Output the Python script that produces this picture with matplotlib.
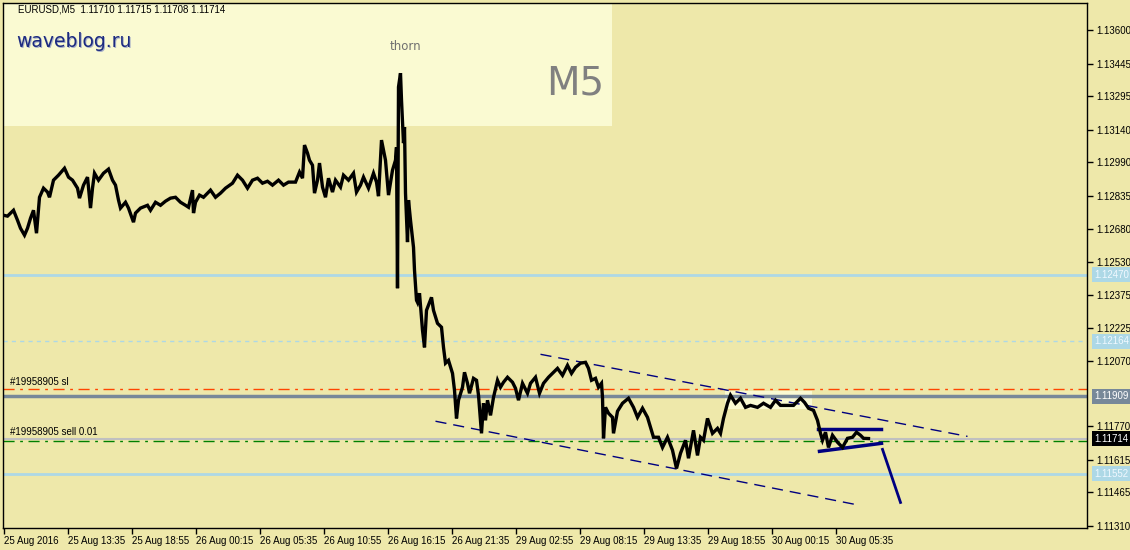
import matplotlib
matplotlib.use("Agg")
import matplotlib.pyplot as plt
import matplotlib.patches as patches
import matplotlib.transforms as mtransforms

plt.rcParams["font.family"] = ["Liberation Sans", "DejaVu Sans"]

# EURUSD M5 price path: bar number from the left edge and price
bars = [0, 4, 10, 14, 17, 21, 24, 27, 30, 33,
        36, 40, 44, 46, 50, 55, 61, 65, 69, 74,
        76, 80, 84, 87, 89, 91, 95, 100, 105, 109,
        112, 115, 117, 122, 125, 130, 132, 137, 144, 147,
        152, 157, 162, 167, 172, 177, 182, 185, 189, 190,
        192, 196, 200, 207, 212, 217, 222, 229, 234, 239,
        244, 249, 254, 259, 264, 269, 275, 280, 285, 292,
        296, 299, 301, 304, 306, 309, 311, 314, 316, 319,
        322, 325, 329, 332, 337, 340, 345, 350, 353, 357,
        360, 365, 370, 373, 375, 378, 382, 385, 389, 392,
        393, 394, 395, 397, 398, 400, 401, 402, 404, 405,
        407, 410, 411, 413, 414, 416, 419, 421, 423, 428,
        430, 434, 438, 440, 442, 445, 449, 451, 453, 455,
        459, 461, 464, 466, 470, 473, 475, 478, 480, 482,
        484, 487, 490, 494, 497, 500, 504, 509, 512, 515,
        519, 524, 527, 532, 536, 540, 545, 550, 554, 559,
        564, 568, 572, 577, 582, 585, 588, 592, 595, 598,
        599, 600, 602, 605, 609, 610, 614, 619, 625, 630,
        634, 639, 644, 647, 650, 655, 659, 664, 669, 673,
        677, 682, 685, 690, 694, 697, 700, 704, 709, 714,
        717, 720, 724, 727, 732, 737, 742, 747, 754, 760,
        767, 772, 777, 784, 790, 797, 801, 805, 810, 814,
        817, 819, 822, 825, 829, 834, 839, 844, 849, 853,
        857, 860, 865]
prices = [1.12745, 1.12741, 1.12768, 1.12722, 1.12685, 1.12653, 1.12685, 1.12731, 1.12768, 1.12662,
          1.12828, 1.12870, 1.12852, 1.12828, 1.12907, 1.12930, 1.12962, 1.12921, 1.12907, 1.12870,
          1.12824, 1.12884, 1.12921, 1.12778, 1.12870, 1.12939, 1.12907, 1.12939, 1.12958, 1.12907,
          1.12884, 1.12815, 1.12778, 1.12805, 1.12778, 1.12713, 1.12755, 1.12778, 1.12791, 1.12768,
          1.12805, 1.12791, 1.12810, 1.12824, 1.12828, 1.12805, 1.12791, 1.12782, 1.12861, 1.12755,
          1.12805, 1.12838, 1.12828, 1.12861, 1.12828, 1.12847, 1.12870, 1.12893, 1.12930, 1.12907,
          1.12870, 1.12907, 1.12916, 1.12893, 1.12902, 1.12884, 1.12907, 1.12884, 1.12898, 1.12898,
          1.12944, 1.12916, 1.13069, 1.13032, 1.12999, 1.12976, 1.12847, 1.12907, 1.12986, 1.12875,
          1.12828, 1.12916, 1.12852, 1.12907, 1.12875, 1.12930, 1.12907, 1.12939, 1.12852, 1.12884,
          1.12921, 1.12870, 1.12939, 1.12898, 1.12833, 1.13092, 1.12999, 1.12838, 1.12953, 1.12999,
          1.13059, 1.12408, 1.13337, 1.13401, 1.13277, 1.13078, 1.13152, 1.12847, 1.12621, 1.12815,
          1.12722, 1.12597, 1.12491, 1.12353, 1.12343, 1.12385, 1.12214, 1.12135, 1.12306, 1.12366,
          1.12306, 1.12246, 1.12228, 1.12135, 1.12062, 1.12075, 1.12015, 1.11937, 1.11807, 1.11891,
          1.11951, 1.12020, 1.11969, 1.11923, 1.11992, 1.11983, 1.11914, 1.11738, 1.11877, 1.11798,
          1.11891, 1.11821, 1.11904, 1.11983, 1.11951, 1.11974, 1.11997, 1.11974, 1.11946, 1.11891,
          1.11969, 1.11923, 1.11969, 1.11997, 1.11923, 1.11969, 1.11997, 1.12020, 1.12038, 1.12006,
          1.12052, 1.12015, 1.12043, 1.12062, 1.12066, 1.12038, 1.11983, 1.11992, 1.11951, 1.11969,
          1.11904, 1.11715, 1.11858, 1.11831, 1.11812, 1.11738, 1.11840, 1.11877, 1.11900, 1.11858,
          1.11812, 1.11854, 1.11812, 1.11766, 1.11720, 1.11720, 1.11673, 1.11720, 1.11660, 1.11576,
          1.11646, 1.11706, 1.11623, 1.11752, 1.11636, 1.11720, 1.11706, 1.11807, 1.11738, 1.11761,
          1.11738, 1.11807, 1.11877, 1.11914, 1.11877, 1.11900, 1.11858, 1.11867, 1.11858, 1.11877,
          1.11858, 1.11891, 1.11867, 1.11867, 1.11867, 1.11900, 1.11881, 1.11854, 1.11844, 1.11798,
          1.11738, 1.11706, 1.11743, 1.11673, 1.11729, 1.11697, 1.11673, 1.11715, 1.11720, 1.11743,
          1.11729, 1.11715, 1.11714]

# axis labels
time_labels = ["25 Aug 2016", "25 Aug 13:35", "25 Aug 18:55", "26 Aug 00:15", "26 Aug 05:35",
               "26 Aug 10:55", "26 Aug 16:15", "26 Aug 21:35", "29 Aug 02:55", "29 Aug 08:15",
               "29 Aug 13:35", "29 Aug 18:55", "30 Aug 00:15", "30 Aug 05:35"]
bars_per_label = 64
price_ticks = [1.13600, 1.13445, 1.13295, 1.13140, 1.12990, 1.12835, 1.12680, 1.12530,
               1.12375, 1.12225, 1.12070, 1.11770, 1.11615, 1.11465, 1.11310]

# horizontal levels
level_solid = [1.12470, 1.11552]
level_dashed = [1.12164]
level_gray = 1.11909
sl_price = 1.11941
order_price = 1.11703
bid = 1.11714

# drawn objects: bars (start, end), prices (start, end)
chan_up_bars, chan_up_prices = [537, 964], [1.12103, 1.11724]
chan_lo_bars, chan_lo_prices = [432, 857], [1.11794, 1.11405]
tri_top_bars, tri_top_prices = [814, 877], [1.11757, 1.11757]
tri_bot_bars, tri_bot_prices = [816, 878], [1.11655, 1.11692]
proj_bars, proj_prices = [879, 897], [1.11664, 1.11419]
box_bars, box_prices = [721, 808], [1.11849, 1.11932]

BG = "#EEE8AA"
PALE = "#FAFAD2"

fig = plt.figure(figsize=(11.3, 5.5), dpi=100)
fig.patch.set_facecolor(BG)
ax = fig.add_axes([3 / 1130, 22 / 550, 1084 / 1130, 525 / 550])
ax.set_facecolor(BG)
ax.set_xlim(-0.5, 1083.5)
ax.set_ylim(1.11301, 1.13725)

# pale info panel top-left
ax.add_patch(patches.Rectangle((0, 0.766), 0.562, 0.234, transform=ax.transAxes,
                               facecolor=PALE, edgecolor="none", zorder=1))
ax.add_patch(patches.Rectangle((box_bars[0], box_prices[0]), box_bars[1] - box_bars[0],
                               box_prices[1] - box_prices[0], facecolor=PALE,
                               edgecolor="none", zorder=1))

# levels
for p in level_solid:
    ax.axhline(p, color="#ADD8E6", lw=2, zorder=2)
for p in level_dashed:
    ax.axhline(p, color="#ADD8E6", lw=1, dashes=(3, 3), zorder=2)
ax.axhline(level_gray, color="#778899", lw=2.5, zorder=2)
ax.axhline(sl_price, color="#FF4500", lw=1, dashes=(8, 4, 2, 4), zorder=2)
ax.axhline(bid, color="#C0C0C0", lw=1.5, zorder=2)
ax.axhline(order_price, color="#008000", lw=1, dashes=(8, 4, 2, 4), zorder=2)

# channel and triangle
ax.plot(chan_up_bars, chan_up_prices, color="#000080", lw=1, dashes=(8, 5), zorder=3)
ax.plot(chan_lo_bars, chan_lo_prices, color="#000080", lw=1, dashes=(8, 5), zorder=3)
ax.plot(tri_top_bars, tri_top_prices, color="#000080", lw=2.5, zorder=4)
ax.plot(tri_bot_bars, tri_bot_prices, color="#000080", lw=2.5, zorder=4)
ax.plot(proj_bars, proj_prices, color="#000080", lw=2, zorder=4)

# price
ax.plot(bars, prices, color="black", lw=2.4, solid_joinstyle="miter", zorder=5)

# texts
ax.text(0.014, 0.987, "EURUSD,M5  1.11710 1.11715 1.11708 1.11714", transform=ax.transAxes,
        fontsize=7, va="center", ha="left", zorder=6)
ax.text(0.0132, 0.924, "waveblog.ru", transform=ax.transAxes, fontsize=13.5, family="DejaVu Sans",
        color="#A8B0C8", va="center", ha="left", zorder=6)
ax.text(0.012, 0.927, "waveblog.ru", transform=ax.transAxes, fontsize=13.5, family="DejaVu Sans",
        color="#1C2A80", va="center", ha="left", zorder=7)
ax.text(0.555, 0.846, "M5", transform=ax.transAxes, fontsize=28, color="#808080",
        family="DejaVu Sans", va="center", ha="right", zorder=6)
ax.text(402, 1.13526, "thorn", fontsize=8.5, color="#707070", family="DejaVu Sans",
        ha="center", va="center", zorder=6)
ax.annotate("#19958905 sl", (7, sl_price), xytext=(0, 1.5), textcoords="offset points",
            fontsize=7, va="bottom", ha="left", zorder=6)
ax.annotate("#19958905 sell 0.01", (7, order_price), xytext=(0, 2.5), textcoords="offset points",
            fontsize=7, va="bottom", ha="left", zorder=6)

# axes
for s in ax.spines.values():
    s.set_color("black")
    s.set_linewidth(1)
ax.yaxis.tick_right()
ax.set_yticks(price_ticks)
ax.set_yticklabels([f"{p:.5f}" for p in price_ticks])
ax.tick_params(axis="y", length=4, width=1, labelsize=7, pad=3)
ax.set_xticks([i * bars_per_label for i in range(len(time_labels))])
ax.set_xticklabels(time_labels, ha="left")
ax.tick_params(axis="x", length=4, width=1, labelsize=7, pad=2)
for lab in ax.get_xticklabels():
    lab.set_transform(lab.get_transform() + mtransforms.ScaledTranslation(1 / 100, 0, fig.dpi_scale_trans))

# price boxes on the right scale
tr = mtransforms.blended_transform_factory(ax.transAxes, ax.transData)
boxes = [(level_solid[0], "#ADD8E6", "#F0F8FF"), (level_dashed[0], "#ADD8E6", "#F0F8FF"),
         (level_gray, "#778899", "white"), (bid, "black", "white"),
         (level_solid[1], "#ADD8E6", "#F0F8FF")]
for p, fc, tc in boxes:
    ax.text(1.0065, p, f"{p:.5f}", transform=tr, fontsize=7, color=tc, va="center",
            ha="left", zorder=8, clip_on=False,
            bbox=dict(facecolor=fc, edgecolor="none", boxstyle="square,pad=0.25"))

fig.savefig("out.png", dpi=100, facecolor=BG)
